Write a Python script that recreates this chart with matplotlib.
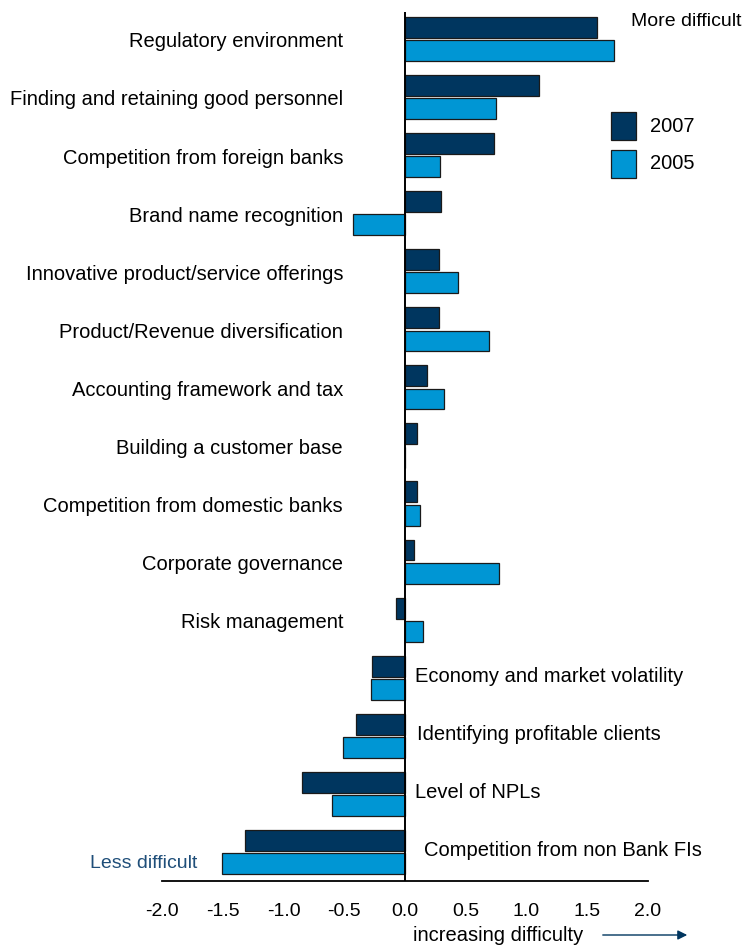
import numpy as np
import matplotlib.pyplot as plt
from matplotlib.patches import Rectangle

plt.rcParams['font.family'] = ['Liberation Sans', 'DejaVu Sans']

categories = [
    "Regulatory environment",
    "Finding and retaining good personnel",
    "Competition from foreign banks",
    "Brand name recognition",
    "Innovative product/service offerings",
    "Product/Revenue diversification",
    "Accounting framework and tax",
    "Building a customer base",
    "Competition from domestic banks",
    "Corporate governance",
    "Risk management",
    "Economy and market volatility",
    "Identifying profitable clients",
    "Level of NPLs",
    "Competition from non Bank FIs",
]
vals_2007 = [1.58, 1.10, 0.73, 0.30, 0.28, 0.28, 0.18, 0.10, 0.10, 0.07, -0.07,
             -0.27, -0.40, -0.85, -1.32]
vals_2005 = [1.72, 0.75, 0.29, -0.43, 0.44, 0.69, 0.32, 0.0, 0.12, 0.77, 0.15,
             -0.28, -0.51, -0.60, -1.51]
xticks = [-2.0, -1.5, -1.0, -0.5, 0.0, 0.5, 1.0, 1.5, 2.0]

DARK = "#00365f"
LIGHT = "#0096d4"
FS = 14.5

fig = plt.figure(figsize=(7.46, 9.47), dpi=100)
ax = fig.add_axes([162 / 746, 66 / 947, 486 / 746, 869 / 947])

y = np.arange(len(categories))
h = 0.36
ax.barh(y - 0.2, vals_2007, height=h, color=DARK, edgecolor="#1a1a1a", linewidth=0.9)
ax.barh(y + 0.2, vals_2005, height=h, color=LIGHT, edgecolor="#1a1a1a", linewidth=0.9)

ax.set_xlim(-2.0, 2.0)
ax.set_ylim(14.5, -0.465)
ax.axvline(0, color="black", linewidth=1.4)

for s in ["top", "right", "left"]:
    ax.spines[s].set_visible(False)
ax.spines["bottom"].set_linewidth(1.3)
ax.set_yticks([])
ax.set_xticks(xticks)
ax.set_xticklabels([f"{t:.1f}" for t in xticks], fontsize=14)
ax.tick_params(axis="x", length=0, pad=16)

# category labels: left of the axis for the top group, right of zero for the bottom group
right_offsets = [0.08, 0.1, 0.08, 0.16]
for i, name in enumerate(categories):
    if i < 11:
        ax.text(-0.51, i + 0.05, name, ha="right", va="center", fontsize=FS)
    else:
        ax.text(right_offsets[i - 11], i - 0.02, name, ha="left", va="center", fontsize=FS)

ax.text(1.86, -0.3, "More difficult", ha="left", va="center", fontsize=14)
ax.text(-1.71, 14.2, "Less difficult", ha="right", va="center", fontsize=14,
        color="#1f4e79", clip_on=False)

# legend boxes
for k, (lab, col) in enumerate([("2007", DARK), ("2005", LIGHT)]):
    yy = 1.5 + k * 0.65
    fig.patches.append(Rectangle((611 / 746, 1 - (yy * 58 + 39 + 14) / 947), 25 / 746, 28 / 947,
                                 transform=fig.transFigure, facecolor=col,
                                 edgecolor="#1a1a1a", linewidth=0.9))
    fig.text(650 / 746, 1 - (yy * 58 + 39) / 947, lab, ha="left", va="center", fontsize=14.5)

fig.text(413 / 746, 1 - 935 / 947, "increasing difficulty", ha="left", va="center", fontsize=FS)
ax.annotate("", xy=(690 / 746, 1 - 935 / 947), xytext=(600 / 746, 1 - 935 / 947),
            xycoords="figure fraction",
            arrowprops=dict(arrowstyle="-|>", color=DARK, lw=1.0, mutation_scale=14))

fig.savefig("out.png", dpi=100)
